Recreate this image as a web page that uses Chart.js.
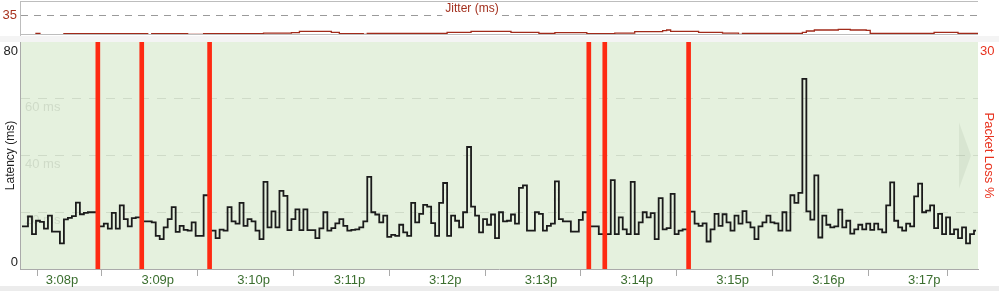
<!DOCTYPE html>
<html>
<head>
<meta charset="utf-8">
<script src="https://cdn.jsdelivr.net/npm/chart.js@4.4.1/dist/chart.umd.min.js"></script>
<style>
  html, body { margin: 0; padding: 0; background: #fff; }
  #wrap { position: relative; width: 999px; height: 291px; overflow: hidden; }
  #jitter { position: absolute; left: 0; top: 0; }
  #main { position: absolute; left: 0; top: 36px; }
  .band { position: absolute; left: 0; width: 999px; background: #f4f4f4; }
</style>
</head>
<body>
<div id="wrap">
  <div class="band" style="top:36px;height:6px"></div>
  <div class="band" style="top:286px;height:5px;background:#ececec"></div>
  <canvas id="jitter" width="999" height="36"></canvas>
  <canvas id="main" width="999" height="255"></canvas>
</div>
<script>
// latency trace with packet loss and jitter, 3:07p - 3:17p

var minuteLabels = ['3:08p', '3:09p', '3:10p', '3:11p', '3:12p', '3:13p', '3:14p', '3:15p', '3:16p', '3:17p'];
var viewStart = 458.7;   // seconds after 3:00 at the left edge
var viewEnd = 1058.7;
var sampleSecs = 2.5;

// one value per sample, null where the sample was lost
var latencyMs = [
  15, 15, 18.5, 12.3, 17, 16.6, 14.2, 18.8, 13.2, 13.2,
  9, 17.5, 18, 18.6, 23.4, 19.3, 19.8, 20, 20, null,
  15, 16, 14.2, 19.8, 14.2, 22.4, 17.6, 15, 17.9, 18.2,
  null, 16.8, 16.8, 16.4, 11.7, 10.5, 14.7, 17.6, 21.8, 13.1,
  15.2, 13.8, 13.5, 16.4, 11.7, 11.7, 26, null, 13.5, 10.9,
  13.9, 13.5, 21.8, 16.8, 16, 23.3, 15.2, 17.6, 16.8, 13.5,
  10.5, 30.7, 14.7, 20.3, 14.7, 27.5, 25.8, 13.7, 17.6, 21,
  13.7, 21, 13.7, 13.7, 10.9, 14.3, 20, 13.5, 14.4, 16.1,
  17.6, 15.2, 13.5, 13.8, 14, 14.7, 16.8, 32.5, 20, 19.2,
  16.4, 18.8, 11.3, 12, 11.7, 15.6, 12.9, 11.7, 23.3, 16.4,
  19.4, 22.6, 22, 16.2, 11.7, 23.3, 30.3, 11.7, 18.8, 17,
  14.7, 20, 43, 22, 18.8, 12.9, 17.6, 15.6, 19.2, 10.9,
  20, 16.8, 17, 19.2, 16, 28.6, 29.5, 13.5, 13.5, 20,
  19.4, 13.5, 15.2, 16, 30.9, 17.6, 16.8, 16.8, 13.2, 13.2,
  17.3, 20, null, 15, 15, 12.3, null, 12.3, 31.3, 12.3,
  18.2, 14, 12.3, 30.7, 12.3, 16.4, 20, 18.2, 19.7, 10.5,
  25, 14, 14.4, 26.5, 12.3, 13.5, 14, null, 20.2, 16,
  15.2, 16.1, 9.7, 14, 19.4, 15.2, 19.3, 16.4, 13.5, 18.8,
  16, 20.4, 16.4, 14.7, 10.5, 15, 16.4, 18.8, 16.4, 16.1,
  13.5, 20, 13.5, 26, 23.3, 26.8, 67, 20.3, 17.4, 33,
  11.1, 18.8, 15.6, 14.7, 15, 20.9, 14.7, 17, 12.5, 14,
  15.6, 14, 16, 13.8, 16, 14, 12.9, 22.4, 30.5, 17,
  14.7, 13.5, 16, 15, 25.6, 30.1, 20, 20.6, 22.4, 14.4,
  19.4, 12.3, 18.2, 12.3, 14, 10.9, 14.7, 9, 12.3, 13.5
];
var lossSamples = [19, 30, 47, 142, 146, 167];
var lossPct = 100;

// jitter changes only now and then: sample where each level starts
var jitterFrom = [2, 4, 5, 11, 32, 33, 42, 46, 61, 68, 70, 78, 80, 86, 87, 107, 113, 123, 130, 134,
  142, 149, 154, 161, 162, 163, 170, 176, 180, 181, 196, 197, 199, 205, 208, 212, 213, 229, 235];
var jitterMs = [0.55, 2.7, 0.55, 2.4, 0, 2.4, 0.9, 2.4, 3.6, 4.4, 6.7, 4.9, 2.4, 1.3, 3.1, 4.9, 6.7, 4.9, 3.1, 4.2,
  2.4, 3.6, 6.0, 7.8, 9.1, 6.7, 4.9, 3.6, 1.3, 3.1, 4.9, 7.3, 9.1, 10.4, 9.1, 8.6, 3.1, 4.9, 3.1];
var jitterMark = 35;

Chart.defaults.font.family = '"Liberation Sans", Arial, sans-serif';
Chart.defaults.font.size = 12;

function sampleTime(i) { return viewStart + i * sampleSecs; }

var minuteTicks = minuteLabels.map(function (l) { return parseInt(l.split(':')[1], 10) * 60; });

var latencyPoints = latencyMs.map(function (v, i) { return { x: sampleTime(i) + sampleSecs / 2, y: v }; });
var lossBars = lossSamples.map(function (i) { return { x: sampleTime(i) + sampleSecs / 2, y: lossPct }; });
var jitterPoints = jitterFrom.map(function (s, k) { return { x: sampleTime(s), y: jitterMs[k] }; });
jitterPoints.push({ x: viewEnd, y: jitterMs[jitterMs.length - 1] });

// jitter strip
var jitterFrame = {
  id: 'jitterFrame',
  afterDraw: function (chart) {
    var c = chart.ctx, a = chart.chartArea;
    c.save();
    c.strokeStyle = '#bdbdbd';
    c.lineWidth = 1;
    c.beginPath();
    c.moveTo(a.left, a.top + 0.5); c.lineTo(a.right, a.top + 0.5);
    c.moveTo(a.left, a.bottom - 0.5); c.lineTo(a.right, a.bottom - 0.5);
    c.stroke();
    c.font = '12px "Liberation Sans", Arial, sans-serif';
    var t = 'Jitter (ms)';
    var w = c.measureText(t).width;
    var cx = (a.left + a.right) / 2 - 27;
    c.fillStyle = '#fff';
    c.fillRect(cx - w / 2 - 3, a.top + 1, w + 6, 14);
    c.fillStyle = '#a3301e';
    c.textAlign = 'center';
    c.textBaseline = 'middle';
    c.fillText(t, cx, a.top + 8);
    c.restore();
  }
};

new Chart(document.getElementById('jitter'), {
  type: 'line',
  data: {
    datasets: [{
      data: jitterPoints,
      borderColor: '#a12a1a',
      borderWidth: 1.3,
      stepped: true,
      pointRadius: 0,
      fill: false
    }]
  },
  options: {
    responsive: false,
    animation: false,
    layout: { padding: { top: 1, bottom: 1, right: 21 } },
    plugins: { legend: { display: false }, tooltip: { enabled: false } },
    scales: {
      x: { type: 'linear', display: false, min: viewStart, max: viewEnd },
      y: {
        min: 0, max: 62,
        afterBuildTicks: function (s) { s.ticks = [{ value: jitterMark }]; },
        ticks: { color: '#a8321f', font: { size: 13 }, padding: 3 },
        grid: { color: '#9a9a9a', drawTicks: false },
        border: { color: '#bdbdbd', dash: [7, 6] },
        afterFit: function (s) { s.width = 20; s.paddingTop = 0; s.paddingBottom = 0; }
      }
    }
  },
  plugins: [jitterFrame]
});

// latency panel: background, inner labels, end labels
var panel = {
  id: 'panel',
  beforeDraw: function (chart) {
    var c = chart.ctx, a = chart.chartArea;
    c.save();
    c.fillStyle = '#e5f1de';
    c.fillRect(a.left, a.top, a.right - a.left, a.bottom - a.top);
    c.restore();
  },
  beforeDatasetsDraw: function (chart) {
    var c = chart.ctx, a = chart.chartArea, y = chart.scales.y;
    c.save();
    c.font = '13px "Liberation Sans", Arial, sans-serif';
    c.fillStyle = '#cfdbc8';
    c.textBaseline = 'top';
    [20, 40, 60].forEach(function (v) {
      c.fillText(v + ' ms', a.left + 5, y.getPixelForValue(v) + 2);
    });
    // scroll arrow
    var my = (a.top + a.bottom) / 2;
    c.fillStyle = 'rgba(110,130,100,0.10)';
    c.beginPath();
    c.moveTo(a.right - 19, my - 33);
    c.lineTo(a.right - 7, my);
    c.lineTo(a.right - 19, my + 33);
    c.closePath();
    c.fill();
    c.restore();
  },
  afterDraw: function (chart) {
    var c = chart.ctx, a = chart.chartArea;
    c.save();
    c.font = '13px "Liberation Sans", Arial, sans-serif';
    c.textBaseline = 'alphabetic';
    c.fillStyle = '#222';
    c.textAlign = 'right';
    c.fillText(String(chart.scales.y.max), a.left - 2, a.top + 13);
    c.fillText(String(chart.scales.y.min), a.left - 2, a.bottom - 3);
    c.fillStyle = '#e8321e';
    c.textAlign = 'left';
    c.fillText(String(chart.scales.y2.max), a.right + 2, a.top + 13);
    c.restore();
  }
};

new Chart(document.getElementById('main'), {
  type: 'line',
  data: {
    datasets: [{
      type: 'bar',
      label: 'Packet Loss %',
      data: lossBars,
      yAxisID: 'y2',
      backgroundColor: '#fe2a12',
      barThickness: 4,
      order: 0
    }, {
      label: 'Latency (ms)',
      data: latencyPoints,
      yAxisID: 'y',
      borderColor: '#1b1b1b',
      borderWidth: 1.8,
      stepped: 'middle',
      spanGaps: true,
      pointRadius: 0,
      fill: false,
      order: 1
    }]
  },
  options: {
    responsive: false,
    animation: false,
    layout: { padding: { top: 6 } },
    plugins: { legend: { display: false }, tooltip: { enabled: false } },
    scales: {
      x: {
        type: 'linear', min: viewStart, max: viewEnd, offset: false,
        afterBuildTicks: function (s) {
          s.ticks = [{ value: viewStart }].concat(minuteTicks.map(function (v) { return { value: v }; }), [{ value: viewEnd }]);
        },
        ticks: {
          autoSkip: false, maxRotation: 0, color: '#3b6e2f', font: { size: 13 }, padding: -3, labelOffset: 8,
          callback: function (v) { var k = minuteTicks.indexOf(v); return k >= 0 ? minuteLabels[k] : ''; }
        },
        grid: { drawOnChartArea: false, tickLength: 7, color: '#aaaaaa' },
        border: { color: '#aaaaaa' },
        afterFit: function (s) { s.height = 22; }
      },
      y: {
        position: 'left', min: 0, max: 80,
        ticks: { display: false, stepSize: 20 },
        grid: {
          drawTicks: false,
          color: function (ctx) { return (ctx.tick.value === 0 || ctx.tick.value === 80) ? 'rgba(0,0,0,0)' : '#cfdbc8'; }
        },
        border: { color: '#aaaaaa', dash: [9, 8] },
        title: { display: true, text: 'Latency (ms)', color: '#222', font: { size: 12 }, padding: { top: 3, bottom: 0 } },
        afterFit: function (s) { s.width = 20; }
      },
      y2: {
        position: 'right', min: 0, max: 30,
        ticks: { display: false },
        grid: { display: false },
        border: { display: false },
        title: { display: true, text: 'Packet Loss %', color: '#e8321e', font: { size: 13 }, padding: { top: 3, bottom: 0 } },
        afterFit: function (s) { s.width = 21; }
      }
    }
  },
  plugins: [panel]
});
</script>
</body>
</html>
